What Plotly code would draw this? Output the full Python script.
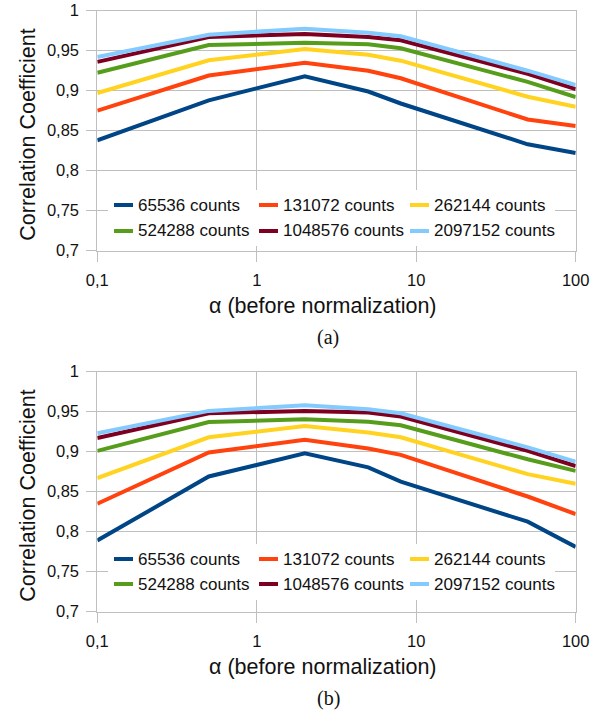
import plotly.graph_objects as go

# alpha values (before normalization) on the log x axis
alpha = [0.1, 0.5, 2, 5, 8, 50, 100]

series_names = ["65536 counts", "131072 counts", "262144 counts",
                "524288 counts", "1048576 counts", "2097152 counts"]
series_colors = ["#004586", "#ff420e", "#ffd320", "#579d1c", "#7e0021", "#83caff"]

# panel (a)
a_65536 = [0.838, 0.888, 0.918, 0.899, 0.884, 0.833, 0.822]
a_131072 = [0.875, 0.919, 0.935, 0.925, 0.9155, 0.864, 0.856]
a_262144 = [0.897, 0.938, 0.952, 0.945, 0.9375, 0.8925, 0.880]
a_524288 = [0.9225, 0.957, 0.960, 0.958, 0.953, 0.911, 0.892]
a_1048576 = [0.936, 0.967, 0.971, 0.967, 0.963, 0.921, 0.902]
a_2097152 = [0.942, 0.970, 0.9775, 0.9725, 0.968, 0.925, 0.907]

# panel (b)
b_65536 = [0.789, 0.869, 0.898, 0.8805, 0.8625, 0.8125, 0.781]
b_131072 = [0.835, 0.899, 0.915, 0.904, 0.896, 0.844, 0.822]
b_262144 = [0.867, 0.918, 0.932, 0.924, 0.918, 0.872, 0.860]
b_524288 = [0.901, 0.937, 0.9405, 0.9375, 0.933, 0.8905, 0.876]
b_1048576 = [0.917, 0.948, 0.951, 0.949, 0.944, 0.901, 0.882]
b_2097152 = [0.923, 0.951, 0.958, 0.953, 0.948, 0.9055, 0.8875]

x_tick_vals = [0.1, 1, 10, 100]
x_tick_text = ["0,1", "1", "10", "100"]
y_tick_vals = [0.7, 0.75, 0.8, 0.85, 0.9, 0.95, 1.0]
y_tick_text = ["0,7", "0,75", "0,8", "0,85", "0,9", "0,95", "1"]

x_title = "α (before normalization)"
y_title = "Correlation Coefficient"
captions = ["(a)", "(b)"]

W, H = 601, 713
SANS = "Liberation Sans, Arial, sans-serif"
SERIF = "Liberation Serif, Times New Roman, serif"
GRID = "#bfbfbf"
TEXT = "#111111"


def px(x):
    return x / W


def py(y):
    return 1 - y / H


# plot-area pixel boxes: (left, right, top, bottom)
panels = [
    dict(box=(97.3, 575.7, 10.7, 250.7), data=[a_65536, a_131072, a_262144, a_524288, a_1048576, a_2097152],
         legend_rows=(205, 231), legend_box=(108, 555, 190, 246)),
    dict(box=(97.3, 575.7, 371.7, 611.7), data=[b_65536, b_131072, b_262144, b_524288, b_1048576, b_2097152],
         legend_rows=(559, 584), legend_box=(108, 555, 544, 600)),
]

fig = go.Figure()
shapes = []
annotations = []

for i, panel in enumerate(panels):
    left, right, top, bottom = panel["box"]
    sfx = "" if i == 0 else str(i + 1)
    xa, ya = "x" + sfx, "y" + sfx

    for name, color, vals in zip(series_names, series_colors, panel["data"]):
        fig.add_trace(go.Scatter(x=alpha, y=vals, mode="lines", name=name,
                                 line=dict(color=color, width=4),
                                 xaxis=xa, yaxis=ya, showlegend=False,
                                 hoverinfo="skip"))

    axis_common = dict(showgrid=True, gridcolor=GRID, gridwidth=1,
                       ticks="outside", ticklen=10, tickcolor=GRID, tickwidth=1,
                       showline=True, linecolor=GRID, linewidth=1, mirror=True,
                       zeroline=False, automargin=False,
                       tickfont=dict(family=SANS, size=16.5, color=TEXT))
    fig.update_layout(**{
        "xaxis" + sfx: dict(axis_common, type="log", range=[-1, 2],
                            domain=[px(left), px(right)], anchor=ya,
                            tickmode="array", tickvals=x_tick_vals, ticktext=x_tick_text,
                            ticklabelstandoff=4),
        "yaxis" + sfx: dict(axis_common, range=[0.7, 1.0],
                            domain=[py(bottom), py(top)], anchor=xa,
                            tickmode="array", tickvals=y_tick_vals, ticktext=y_tick_text,
                            ticklabelstandoff=4),
    })

    # axis titles and caption
    annotations.append(dict(text=x_title, x=px(323), y=py(bottom + 55.5), xref="paper", yref="paper",
                            showarrow=False, xanchor="center", yanchor="middle",
                            font=dict(family=SANS, size=21.5, color=TEXT)))
    annotations.append(dict(text=y_title, x=px(28), y=py((top + bottom) / 2 + 4), xref="paper", yref="paper",
                            showarrow=False, xanchor="center", yanchor="middle", textangle=-90,
                            font=dict(family=SANS, size=21.5, color=TEXT)))
    annotations.append(dict(text=captions[i], x=px(328), y=py(bottom + 86.5), xref="paper", yref="paper",
                            showarrow=False, xanchor="center", yanchor="middle",
                            font=dict(family=SERIF, size=20, color=TEXT)))

    # legend: white panel, three columns by two rows
    lx0, lx1, ly0, ly1 = panel["legend_box"]
    shapes.append(dict(type="rect", xref="paper", yref="paper", layer="above",
                       x0=px(lx0), x1=px(lx1), y0=py(ly1), y1=py(ly0),
                       fillcolor="white", line=dict(width=0)))
    col_swatch = [(114, 133), (259, 278), (410, 429)]
    col_text = [136, 281, 432]
    for k, (name, color) in enumerate(zip(series_names, series_colors)):
        row, col = divmod(k, 3)
        yy = panel["legend_rows"][row]
        sx0, sx1 = col_swatch[col]
        shapes.append(dict(type="line", xref="paper", yref="paper", layer="above",
                           x0=px(sx0), x1=px(sx1), y0=py(yy), y1=py(yy),
                           line=dict(color=color, width=4)))
        annotations.append(dict(text=name, x=px(col_text[col]), y=py(yy), xref="paper", yref="paper",
                                showarrow=False, xanchor="left", yanchor="middle",
                                font=dict(family=SANS, size=17, color=TEXT)))

fig.update_layout(width=W, height=H, margin=dict(l=0, r=0, t=0, b=0),
                  paper_bgcolor="white", plot_bgcolor="white",
                  separators=",.", showlegend=False,
                  shapes=shapes, annotations=annotations)

fig.write_html("out.html")
